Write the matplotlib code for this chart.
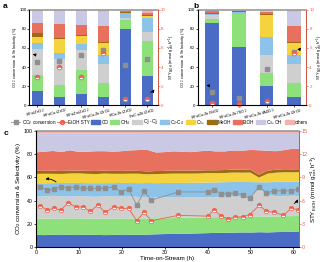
import numpy as np
import matplotlib.pyplot as plt
from matplotlib.lines import Line2D
from matplotlib.patches import Patch

plt.rcParams['font.family'] = ['Liberation Sans', 'DejaVu Sans']
plt.rcParams['font.size'] = 4
plt.rcParams['mathtext.fontset'] = 'custom'
plt.rcParams['mathtext.rm'] = 'Liberation Sans'
plt.rcParams['mathtext.it'] = 'Liberation Sans:italic'

# ---------------- data ----------------
species = ['CO', 'CH$_4$', 'C$_2^=$-C$_4^=$', 'C$_2$-C$_4$', 'C$_{5+}$',
           'MeOH', 'EtOH', 'C$_{3+}$OH', 'others']
colors = ['#4a6cc4', '#8ee07a', '#cfcfcf', '#8dc3e8', '#f5d33f',
          '#9c6b12', '#e8705f', '#c9c9e6', '#f2b2ad']

# panel a
cats_a = ['KFe/ZrO$_2$', 'KFeCu/ZrO$_2$', 'KFeZn/ZrO$_2$', 'KFeCuZn/ZrO$_2$',
          'KCuZn/ZrO$_2$', 'FeCuZn/ZrO$_2$']
co_a = [15, 8, 11.5, 9, 80.5, 30.5]
ch4_a = [16.5, 13, 25, 14, 9, 37]
ole_a = [27, 27, 21, 20, 1.7, 9]
par_a = [6.5, 7, 7, 9.5, 5.3, 15]
c5_a = [7, 14, 7.7, 12.5, 0.8, 2]
meoh_a = [3.5, 1.5, 1.8, 1.7, 0.4, 1.4]
etoh_a = [11.3, 15, 9.8, 16.3, 1.5, 1.4]
c3oh_a = [12.2, 13.5, 15, 15, 0.5, 0.3]
oth_a = [1, 0.5, 1.2, 1.8, 0.3, 3.4]
conv_a = [45.5, 46, 53, 57.5, 42, 48]
sty_a = [3.0, 4.0, 2.9, 5.5, 0.65, 0.65]

# panel b
cats_b = ['KFeCuZn/SiO$_2$', 'KFeCuZn/TiO$_2$', 'KFeCuZn/Al$_2$O$_3$', 'KFeCuZn/ZrO$_2$']
co_b = [86, 61.5, 20, 9]
ch4_b = [5, 34, 13.3, 14]
ole_b = [3.5, 0.5, 19.3, 20]
par_b = [1.2, 1.5, 19.4, 9.5]
c5_b = [0.5, 0.3, 22.7, 12.5]
meoh_b = [0.3, 1.2, 1.0, 1.7]
etoh_b = [2.0, 0.3, 2.0, 16.3]
c3oh_b = [1.0, 0.5, 1.8, 15]
oth_b = [0.5, 0.2, 0.5, 1.8]
conv_b = [14, 7.5, 38, 56]
sty_b = [0.2, 0.07, 0.45, 5.5]

# panel c - selectivity over time
t_area = [0, 2, 4, 6, 8, 10, 12, 14, 16, 18, 20, 22, 24, 26, 28, 30,
          32, 34, 36, 38, 40, 42, 44, 46, 48, 50, 52, 54, 56, 58, 60, 62]
co_c = [10.5, 10.3, 10.6, 10.8, 10.5, 10.4, 10.6, 10.5, 10.3, 10.4, 10.8, 10.6, 10.5, 10.7, 11.0, 11.2,
        11.3, 11.5, 11.6, 11.8, 12.0, 12.2, 12.3, 12.4, 12.6, 12.5, 12.8, 12.6, 12.9, 13.0, 13.3, 13.5]
ch4_c = [14.0, 14.2, 14.0, 13.8, 14.2, 14.3, 14.0, 14.1, 14.3, 14.2, 13.9, 14.0, 14.1, 14.0, 13.8, 13.6,
         13.7, 13.6, 13.8, 13.7, 13.6, 13.5, 13.6, 13.7, 13.5, 13.8, 13.6, 13.7, 13.5, 13.6, 13.4, 13.3]
ole_c = [19.0, 19.2, 19.5, 19.0, 18.8, 19.3, 19.0, 18.7, 19.2, 19.0, 18.8, 19.0, 18.6, 18.5, 18.0, 18.0,
         17.8, 17.5, 17.6, 17.4, 17.3, 17.5, 17.4, 17.6, 17.2, 17.0, 24.0, 18.5, 17.5, 17.3, 17.5, 17.2]
par_c = [11.5, 11.3, 11.0, 11.6, 11.8, 11.2, 11.5, 11.7, 11.3, 11.5, 11.8, 11.6, 11.9, 12.0, 12.3, 12.4,
         12.5, 12.6, 12.4, 12.5, 12.7, 12.5, 12.6, 12.4, 12.8, 12.7, 5.5, 11.0, 12.2, 12.5, 12.3, 12.6]
c5_c = [8.0, 8.2, 8.0, 7.8, 8.1, 8.3, 8.0, 7.9, 8.2, 8.0, 7.8, 8.0, 8.1, 7.5, 7.8, 7.9,
        8.0, 8.1, 7.9, 8.0, 8.2, 8.0, 7.9, 8.1, 8.0, 8.2, 4.0, 7.5, 8.0, 8.1, 7.9, 8.0]
meoh_c = [2.6, 2.5, 2.7, 2.6, 2.5, 2.4, 2.6, 2.7, 2.5, 2.6, 2.5, 2.6, 2.4, 2.5, 2.6, 2.5,
          2.7, 2.6, 2.5, 2.6, 2.4, 2.5, 2.6, 2.5, 2.6, 2.5, 2.5, 2.6, 2.5, 2.6, 2.5, 2.6]
etoh_c = [16.0, 16.5, 17.0, 16.3, 17.5, 16.0, 16.5, 17.0, 16.8, 16.5, 17.0, 17.5, 18.0, 18.5, 16.0, 16.2,
          16.5, 16.3, 16.0, 16.5, 16.8, 16.2, 16.0, 16.5, 16.3, 17.0, 21.0, 17.0, 16.0, 16.5, 18.0, 17.0]
c3oh_c = [16.0, 15.4, 14.8, 15.7, 14.2, 15.7, 15.4, 15.0, 15.0, 15.4, 15.0, 14.3, 14.0, 13.8, 16.0, 15.7,
          15.0, 15.3, 15.7, 15.0, 14.5, 15.1, 15.1, 14.3, 14.5, 13.8, 14.1, 14.6, 14.9, 13.9, 12.6, 13.3]
oth_c = [2.5, 2.6, 2.5, 2.4, 2.6, 2.5, 2.4, 2.5, 2.6, 2.5, 2.4, 2.5, 2.6, 2.5, 2.5, 2.4,
         2.5, 2.6, 2.5, 2.4, 2.5, 2.6, 2.5, 2.5, 2.4, 2.5, 2.6, 2.5, 2.5, 2.6, 2.5, 2.5]

# panel c - conversion / STY points
t_pts = [1.0, 2.7, 4.2, 5.8, 7.5, 9.3, 11.0, 12.7, 14.4, 16.2, 18.2, 19.8, 21.6, 23.5, 25.2,
         26.9, 33.2, 40.0, 41.5, 43.2, 44.8, 46.5, 48.2, 49.8, 52.1, 53.7, 55.6, 57.7, 59.5, 61.0]
conv_c = [52, 49, 50, 52, 51, 52, 50.5, 50.5, 50.5, 50.5, 52, 47.5, 50, 36, 48,
          40.5, 47.5, 47.5, 49.5, 46, 46, 46.5, 45, 42, 52, 46.5, 48.5, 48.5, 48.5, 50]
sty_c = [5.3, 4.8, 5.0, 4.8, 5.7, 5.2, 5.2, 4.6, 5.4, 4.5, 5.2, 5.0, 5.0, 3.4, 4.5,
         3.4, 4.1, 4.0, 4.8, 4.0, 3.6, 3.9, 3.9, 4.2, 5.4, 4.6, 4.5, 4.1, 5.0, 4.85]

red = '#f0604c'
gray = '#8f8f8f'
ylab = 'CO$_2$ conversion & Selectivity (%)'
stylab = 'STY$_{\\rm EtOH}$ (mmol g$_{\\rm cat}^{-1}$ h$^{-1}$)'
arrow = dict(arrowstyle='-|>', color='k', lw=0.6, mutation_scale=4,
             connectionstyle='arc3,rad=0.3')


def style_axes(ax, ax2, stymax, stystep, fs=4, ts=3.6):
    ax.set_ylim(0, 100)
    ax.set_yticks(range(0, 101, 20))
    ax.tick_params(axis='y', length=1.5, width=0.5, pad=0.6, labelsize=ts)
    ax.tick_params(axis='x', length=1.5, width=0.5, pad=0.6)
    for s in ax.spines.values():
        s.set_linewidth(0.6)
    ax.spines['top'].set_color('#999999')
    ax.spines['top'].set_linewidth(1.2)
    ax2.set_ylim(0, stymax)
    ax2.set_yticks(np.arange(0, stymax + 0.1, stystep))
    ax2.spines['right'].set_color(red)
    ax2.spines['right'].set_linewidth(0.6)
    ax2.spines['top'].set_visible(False)
    ax2.tick_params(axis='y', colors=red, length=1.5, width=0.5, pad=0.6, labelsize=ts)
    ax.set_ylabel(ylab, labelpad=0.4, fontsize=fs)
    ax2.set_ylabel(stylab, labelpad=0.4, fontsize=fs)


def bar_panel(ax, cats, parts, conv, sty, xlim, shift):
    x = np.arange(len(cats))
    bottom = np.zeros(len(cats))
    for vals, col in zip(parts, colors):
        ax.bar(x, vals, 0.5, bottom=bottom, color=col, zorder=2)
        bottom += np.array(vals)
    ax.set_xlim(*xlim)
    ax.set_xticks(x)
    ax.set_xticklabels([])
    # category names, slanted under each bar
    for xi, name in zip(x, cats):
        ax.text(xi + shift, -1.5, name, rotation=15, rotation_mode='anchor',
                ha='right', va='top', fontsize=3.1, clip_on=False)
    ax.plot(x, conv, 's', color=gray, ms=2.8, zorder=4)
    ax2 = ax.twinx()
    ax2.plot(x, sty, 'o', color=red, ms=3.4, fillstyle='top',
             markerfacecoloralt='white', mec=red, mew=0.6, clip_on=False)
    return ax2


fig = plt.figure(figsize=(3.26, 2.62), dpi=100)

# ---------------- panel a ----------------
ax_a = fig.add_axes([0.09, 0.599, 0.395, 0.363])
parts_a = [co_a, ch4_a, ole_a, par_a, c5_a, meoh_a, etoh_a, c3oh_a, oth_a]
ax_a2 = bar_panel(ax_a, cats_a, parts_a, conv_a, sty_a, (-0.36, 5.49), 0.33)
style_axes(ax_a, ax_a2, 10, 2, fs=3.0, ts=3.2)
ax_a.annotate('', xy=(-0.33, 53.5), xytext=(-0.05, 51), arrowprops=arrow)
ax_a.annotate('', xy=(5.38, 19), xytext=(5.02, 12.5), arrowprops=arrow)

# ---------------- panel b ----------------
ax_b = fig.add_axes([0.607, 0.599, 0.333, 0.363])
parts_b = [co_b, ch4_b, ole_b, par_b, c5_b, meoh_b, etoh_b, c3oh_b, oth_b]
ax_b2 = bar_panel(ax_b, cats_b, parts_b, conv_b, sty_b, (-0.51, 3.46), 0.27)
style_axes(ax_b, ax_b2, 10, 2, fs=3.0, ts=3.2)
ax_b.annotate('', xy=(-0.3, 20.5), xytext=(-0.03, 18), arrowprops=arrow)
ax_b.annotate('', xy=(3.32, 63), xytext=(3.05, 57.5), arrowprops=arrow)

# ---------------- panel c ----------------
ax_c = fig.add_axes([0.11, 0.057, 0.807, 0.443])
ax_c.stackplot(t_area, co_c, ch4_c, ole_c, par_c, c5_c, meoh_c, etoh_c, c3oh_c, oth_c,
               colors=colors, lw=0)
ax_c.plot(t_pts, conv_c, '-s', color=gray, lw=0.6, ms=2.6, zorder=4)
ax_c.set_xlim(0, 61.3)
ax_c.set_xticks(range(0, 61, 10))
ax_c.set_xlabel('Time-on-Stream (h)', labelpad=1, fontsize=4.5)
ax_c2 = ax_c.twinx()
ax_c2.plot(t_pts, sty_c, '-o', color=red, lw=0.6, ms=3.2, fillstyle='top',
           markerfacecoloralt='white', mec=red, mew=0.5)
style_axes(ax_c, ax_c2, 15, 3, fs=4.5, ts=3.8)
ax_c.tick_params(axis='x', labelsize=3.8)
ax_c.annotate('', xy=(1.6, 58), xytext=(5.2, 54.5), arrowprops=arrow)
ax_c.annotate('', xy=(61.2, 43.5), xytext=(59.6, 36.5), arrowprops=arrow)

# panel letters
fig.text(0.008, 0.99, 'a', fontsize=6, fontweight='bold', va='top')
fig.text(0.592, 0.99, 'b', fontsize=6, fontweight='bold', va='top')
fig.text(0.012, 0.505, 'c', fontsize=6, fontweight='bold', va='top')

# ---------------- legend ----------------
handles = [Line2D([], [], color=gray, marker='s', ms=2.4, lw=0.6),
           Line2D([], [], color=red, marker='o', ms=2.8, lw=0.6, fillstyle='top',
                  markerfacecoloralt='white', mec=red)]
handles += [Patch(color=c) for c in colors]
labels = ['CO$_2$ conversion', 'EtOH STY'] + species
fig.legend(handles, labels, loc='center', bbox_to_anchor=(0.49, 0.533), ncol=11,
           frameon=False, fontsize=3.3, handlelength=2.0, handleheight=1.0,
           handletextpad=0.25, columnspacing=0.35, borderpad=0, borderaxespad=0)

fig.savefig('out.png', dpi=100)
